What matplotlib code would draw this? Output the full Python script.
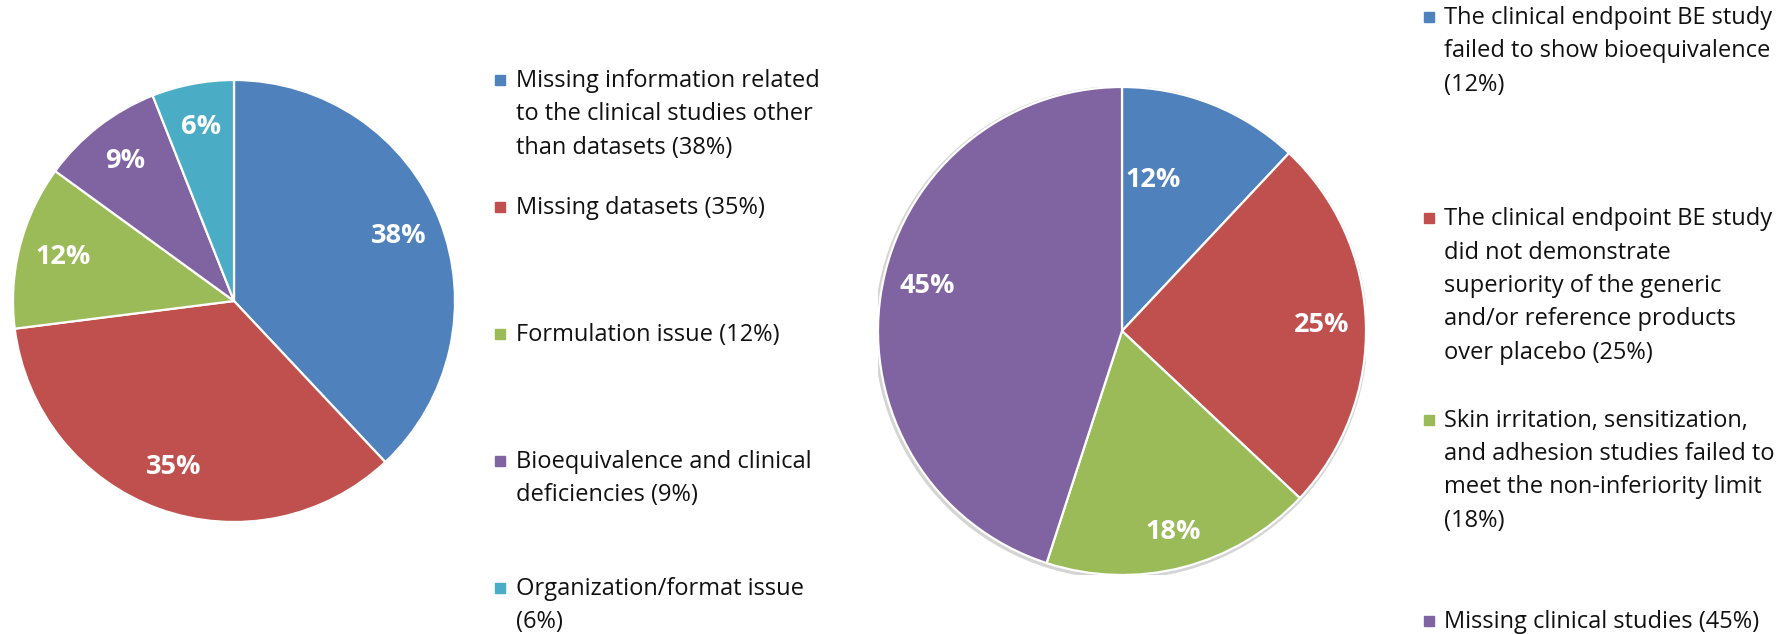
import numpy as np
import matplotlib
matplotlib.use("Agg")
import matplotlib.pyplot as plt
from matplotlib.patches import Rectangle, Circle

# ---- data ----
reasons_left = [
    "Missing information related\nto the clinical studies other\nthan datasets (38%)",
    "Missing datasets (35%)",
    "Formulation issue (12%)",
    "Bioequivalence and clinical\ndeficiencies (9%)",
    "Organization/format issue\n(6%)",
]
shares_left = [38, 35, 12, 9, 6]

reasons_right = [
    "The clinical endpoint BE study\nfailed to show bioequivalence\n(12%)",
    "The clinical endpoint BE study\ndid not demonstrate\nsuperiority of the generic\nand/or reference products\nover placebo (25%)",
    "Skin irritation, sensitization,\nand adhesion studies failed to\nmeet the non-inferiority limit\n(18%)",
    "Missing clinical studies (45%)",
]
shares_right = [12, 25, 18, 45]

colors_left = ["#4F81BD", "#C0504D", "#9BBB59", "#8064A2", "#4BACC6"]
colors_right = ["#4F81BD", "#C0504D", "#9BBB59", "#8064A2"]

W, H = 1776, 634
plt.rcParams['font.family'] = ['Open Sans', 'DejaVu Sans']
fig = plt.figure(figsize=(W / 100, H / 100), dpi=100)


def draw_pie(center, r, values, colors, dists, nudges, shadow=False):
    cx, cy = center
    ax = fig.add_axes([(cx - r) / W, 1 - (cy + r) / H, 2 * r / W, 2 * r / H])
    if shadow:
        ax.add_patch(Circle((-0.004, -0.006), 1.008, color="#d4d4d4", zorder=0))
    wedges, _ = ax.pie(values, colors=colors, startangle=90, counterclock=False,
                       wedgeprops=dict(edgecolor="white", linewidth=1.6))
    # percentage labels inside the slices
    for w, v, d, n in zip(wedges, values, dists, nudges):
        ang = np.deg2rad((w.theta1 + w.theta2) / 2 + n)
        ax.text(d * np.cos(ang), d * np.sin(ang), f"{v}%", ha="center", va="center",
                color="white", fontsize=19.5, fontweight="bold")
    ax.set_xlim(-1, 1)
    ax.set_ylim(-1, 1)
    ax.axis("off")
    return ax


def draw_legend(x_mark, x_text, y0, step, labels, colors):
    for i, (lab, c) in enumerate(zip(labels, colors)):
        yc = y0 + i * step
        fig.add_artist(Rectangle(((x_mark - 5) / W, 1 - (yc + 5) / H), 10 / W, 10 / H,
                                 transform=fig.transFigure, color=c))
        fig.text(x_text / W, 1 - (yc - 11) / H, lab, ha="left", va="top",
                 fontsize=17, color="#111111", linespacing=1.52)


draw_pie((234, 301), 221, shares_left, colors_left, [0.8] * 5, [0] * 5)
draw_pie((1122, 331), 244, shares_right, colors_right, [0.63, 0.82, 0.85, 0.82],
         [10, 0, 0, -4], shadow=True)

draw_legend(500, 516, 80, 127, reasons_left, colors_left)
draw_legend(1429, 1444, 17, 201.3, reasons_right, colors_right)

fig.savefig("out.png", dpi=100)
